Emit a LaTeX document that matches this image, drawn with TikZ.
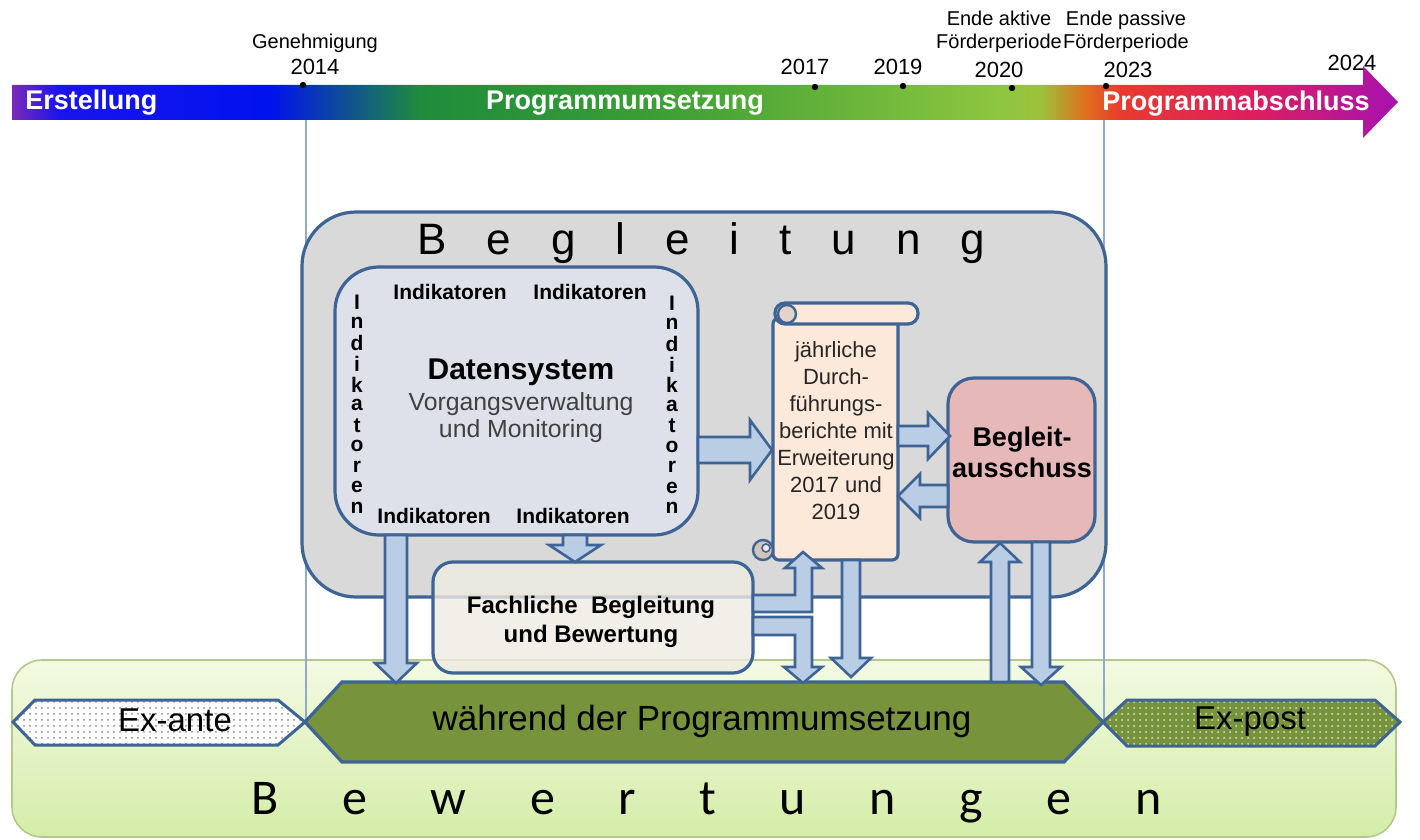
\documentclass[tikz,border=0pt]{standalone}
\usepackage{fontspec}
\setmainfont{Liberation Sans}
\newfontfamily\calib{Carlito}
\usetikzlibrary{patterns}
\definecolor{bord}{HTML}{3E6496}
\definecolor{arrfill}{HTML}{B9CDE5}
\definecolor{graybox}{HTML}{D9D9D9}
\definecolor{dsfill}{HTML}{DEE1EA}
\definecolor{peach}{HTML}{FDE9D9}
\definecolor{pinkbox}{HTML}{E6B9B8}
\definecolor{beige}{HTML}{EEECE1}
\definecolor{olive}{HTML}{77933C}
\definecolor{gtop}{HTML}{F3FAE2}
\definecolor{gbot}{HTML}{D4EDA8}
\definecolor{gbord}{HTML}{B4C88C}
\definecolor{vline}{HTML}{8FAACB}
\definecolor{tA}{HTML}{7A2AB8}
\definecolor{tB}{HTML}{1A14EE}
\definecolor{tC}{HTML}{0012EE}
\definecolor{tD}{HTML}{1E8C3C}
\definecolor{tE}{HTML}{3A9E34}
\definecolor{tF}{HTML}{8DC63F}
\definecolor{tG}{HTML}{9CC23A}
\definecolor{tH}{HTML}{E0701E}
\definecolor{tI}{HTML}{E83A2E}
\definecolor{tJ}{HTML}{DE1E5E}
\definecolor{tK}{HTML}{A612B0}
\pgfdeclarehorizontalshading{tlshade}{100bp}{%
 color(0bp)=(tA); color(25bp)=(tA); color(26.7bp)=(tB); color(34.3bp)=(tC);
 color(39.7bp)=(tD); color(48bp)=(tE); color(60.6bp)=(tF); color(62.1bp)=(tG);
 color(63.7bp)=(tH); color(65bp)=(tI); color(69.7bp)=(tJ); color(75bp)=(tK);
 color(100bp)=(tK)}
\newcommand\vblk[6]{\filldraw[blk] (#1-#5,#2) -- (#1-#5,#3) -- (#1-#6,#3) -- (#1,#4) -- (#1+#6,#3) -- (#1+#5,#3) -- (#1+#5,#2) -- cycle;}
\newcommand\hblk[6]{\filldraw[blk] (#2,#1-#5) -- (#3,#1-#5) -- (#3,#1-#6) -- (#4,#1) -- (#3,#1+#6) -- (#3,#1+#5) -- (#2,#1+#5) -- cycle;}
\newcommand\gapA{\hspace{20pt}}
\newcommand\gapB{\hspace{31.8pt}}
\begin{document}
\begin{tikzpicture}[x=0.5pt,y=-0.5pt,
  blk/.style={fill=arrfill, draw=bord, line width=1.3pt, line join=miter},
  boxst/.style={draw=bord, line width=1.6pt},
  tl/.style={inner sep=0pt, font=\fontsize{10}{11.5}\selectfont, align=center},
  yr/.style={inner sep=0pt, font=\fontsize{11}{13}\selectfont},
  phase/.style={inner sep=0pt, text=white, font=\bfseries\fontsize{13.5}{15}\selectfont},
  ind/.style={inner sep=0pt, font=\bfseries\fontsize{10.5}{12}\selectfont},
]
\useasboundingbox (0,0) rectangle (1420,840);
\fill[white] (0,0) rectangle (1420,840);

% Bewertungen area
\draw[draw=gbord, line width=0.8pt, top color=gtop, bottom color=gbot, rounded corners=15pt] (12,660) rectangle (1396,837);

% thin vertical lines
\draw[vline, line width=0.7pt] (306,88) -- (306,722);
\draw[vline, line width=0.7pt] (1104,88) -- (1104,722);

% timeline arrow
\path[shading=tlshade] (12,85) -- (1363,85) -- (1363,66) -- (1398,102) -- (1363,138) -- (1363,120) -- (12,120) -- cycle;
\foreach \px/\py in {303/85,815/87,903/86,1012/88,1106/86} \fill (\px,\py) circle (1.6pt);
\node[phase, anchor=west] (ers) at (25,103) {Erstellung};
\node[phase] (pum) at (625,103) {Programmumsetzung};
\node[phase] (pab) at (1236,104) {Programmabschluss};
\node[tl] (gen) at (315,43) {Genehmigung};
\node[yr] (y14) at (315,67) {2014};
\node[yr] (y17) at (805,67) {2017};
\node[yr] (y19) at (898,67) {2019};
\node[tl] (eak) at (999,32) {Ende aktive\\Förderperiode};
\node[yr] (y20) at (999,70) {2020};
\node[tl] (epa) at (1126,32) {Ende passive\\Förderperiode};
\node[yr] (y23) at (1128,70) {2023};
\node[yr] (y24) at (1352,63) {2024};

% Begleitung box
\draw[boxst, fill=graybox, rounded corners=27pt] (302,212) rectangle (1106,597);
\node[anchor=base west, inner sep=0pt, font=\fontsize{22}{26}\selectfont] (begl) at (417,254) {B\gapA e\gapA g\gapA l\gapA e\gapA i\gapA t\gapA u\gapA n\gapA g};

% Hexagons
\path[preaction={fill=white}, preaction={pattern=dots, pattern color=black!45}, draw=bord, line width=1.5pt]
  (13,722) -- (35,700) -- (278,700) -- (305,722) -- (278,745) -- (35,745) -- cycle;
\node[inner sep=0pt, font=\fontsize{16.5}{18}\selectfont] (exa) at (175,720) {Ex-ante};
\draw[boxst, fill=olive] (305,722) -- (342,682) -- (1064,682) -- (1103,722) -- (1064,762) -- (342,762) -- cycle;
\node[inner sep=0pt, font=\fontsize{17.5}{20}\selectfont] (wae) at (702,721) {während der Programmumsetzung};
\path[preaction={fill=olive}, preaction={pattern=dots, pattern color=white!75!olive}, draw=bord, line width=1.5pt]
  (1103,722) -- (1127,700) -- (1375,700) -- (1400,722) -- (1375,746) -- (1127,746) -- cycle;
\node[inner sep=0pt, font=\fontsize{16.5}{18}\selectfont] (exp) at (1250,722) {Ex-post};

\node[anchor=base west, inner sep=0pt, font=\calib\fontsize{25}{29}\selectfont] (bew) at (251,814) {B\gapB e\gapB w\gapB e\gapB r\gapB t\gapB u\gapB n\gapB g\gapB e\gapB n};

% Datensystem
\filldraw[fill=dsfill, boxst, rounded corners=22pt] (335,267) rectangle (698,535);
\node[inner sep=0pt, font=\bfseries\fontsize{15}{17}\selectfont] (dst) at (521,372) {Datensystem};
\node[inner sep=0pt, text=black!75, font=\fontsize{12.4}{14}\selectfont] (vgv) at (521,404) {Vorgangsverwaltung};
\node[inner sep=0pt, text=black!75, font=\fontsize{12.4}{14}\selectfont] (umo) at (521,431) {und Monitoring};
\node[ind] (it1) at (450,292) {Indikatoren};
\node[ind] (it2) at (590,292) {Indikatoren};
\node[ind] (ib1) at (434,516) {Indikatoren};
\node[ind] (ib2) at (573,516) {Indikatoren};
\foreach \c [count=\i from 0] in {I,n,d,i,k,a,t,o,r,e,n} {
  \node[ind] (L\i) at (357,302+20.6*\i) {\c};
  \node[ind] (R\i) at (672,303+20.5*\i) {\c};
}

% scroll
\filldraw[fill=peach, boxst, rounded corners=3pt] (773,318) rectangle (898,560);
\filldraw[fill=peach, boxst, rounded corners=5pt] (775,303) rectangle (918,324);
\filldraw[fill=peach!80!gray, draw=bord, line width=1.2pt] (787,314) circle (4.5pt);
\filldraw[fill=peach!65!gray, draw=bord, line width=1.2pt] (763,550) circle (5pt);
\filldraw[fill=peach, draw=bord, line width=0.8pt] (766,548) circle (2pt);
\node[inner sep=0pt, align=center, text=black!85, font=\fontsize{11}{13.5}\selectfont] (ber) at (836,431)
  {jährliche\\Durch-\\führungs-\\berichte mit\\Erweiterung\\2017 und\\2019};

% Begleitausschuss
\filldraw[fill=pinkbox, boxst, rounded corners=13pt] (948,378) rectangle (1095,542);
\node[inner sep=0pt, align=center, font=\bfseries\fontsize{13.5}{15.5}\selectfont] (bga) at (1022,452) {Begleit-\\ausschuss};

% Fachliche
\filldraw[fill=beige, fill opacity=0.8, boxst, rounded corners=10pt] (433,562) rectangle (753,673);
\node[inner sep=0pt, align=center, font=\bfseries\fontsize{12}{14.5}\selectfont] (fab) at (591,622) {Fachliche\ \ Begleitung\\und Bewertung};

% block arrows
\vblk{396}{535}{663}{683}{11}{21}
\vblk{575}{535}{545}{562}{12}{26}
\hblk{450}{698}{750}{772}{13}{30}
\hblk{436}{898}{928}{950}{10}{23}
\hblk{496}{948}{920}{898}{11}{22}
\vblk{1000}{682}{562}{543}{9}{20}
\vblk{1041}{542}{667}{685}{9}{20}
\vblk{851}{560}{658}{677}{9}{20}
\filldraw[blk] (753,595) -- (795,595) -- (795,568) -- (785,568) -- (803,552) -- (822,568) -- (812,568) -- (812,612) -- (753,612) -- cycle;
\filldraw[blk] (753,617) -- (812,617) -- (812,667) -- (822,667) -- (803,683) -- (784,667) -- (795,667) -- (795,635) -- (753,635) -- cycle;
\end{tikzpicture}
\end{document}
